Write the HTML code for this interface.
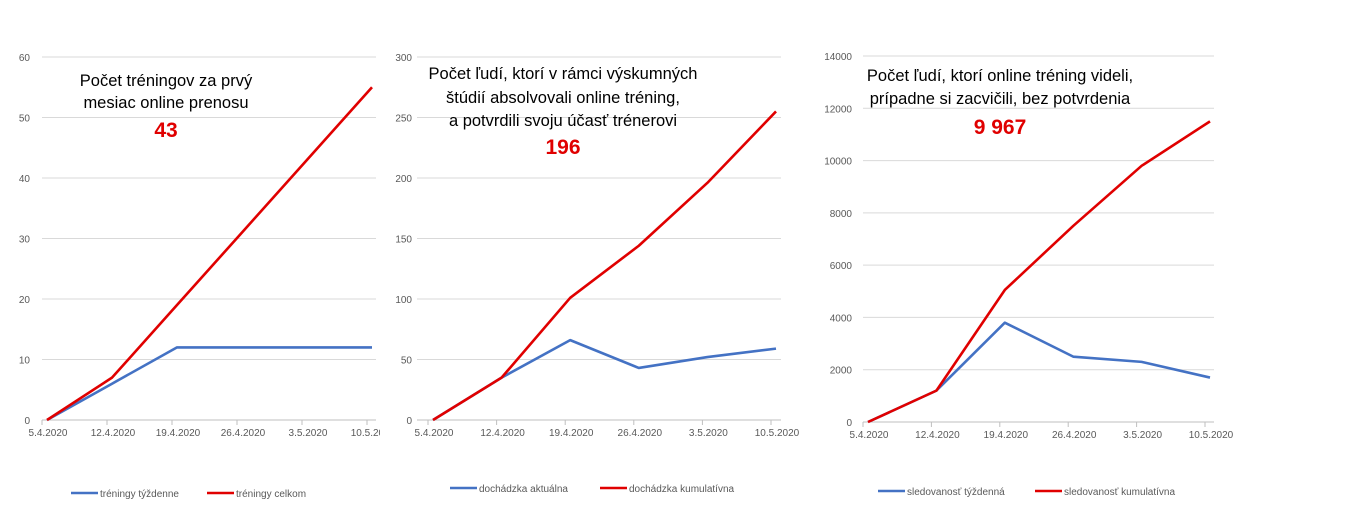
<!DOCTYPE html>
<html><head><meta charset="utf-8"><style>
body{margin:0;background:#fff;width:1350px;height:506px;overflow:hidden;font-family:"Liberation Sans",sans-serif}
svg{display:block}
</style></head><body>
<svg id="s" width="1350" height="506" xmlns="http://www.w3.org/2000/svg"></svg>
<script>
const categories=["5.4.2020","12.4.2020","19.4.2020","26.4.2020","3.5.2020","10.5.2020"];
const c1Weekly=[0,6,12,12,12,12];
const c1Total=[0,7,19,31,43,55];
const c1Ticks=[0,10,20,30,40,50,60];
const c2Current=[0,35,66,43,52,59];
const c2Cumul=[0,35,101,144,196,255];
const c2Ticks=[0,50,100,150,200,250,300];
const c3Weekly=[0,1200,3800,2500,2300,1700];
const c3Cumul=[0,1200,5050,7500,9800,11500];
const c3Ticks=[0,2000,4000,6000,8000,10000,12000,14000];
const NS="http://www.w3.org/2000/svg";
const svg=document.getElementById('s');
function mk(tag,attrs,parent,text){const e=document.createElementNS(NS,tag);for(const k in attrs)e.setAttribute(k,attrs[k]);if(text!==undefined)e.textContent=text;(parent||svg).appendChild(e);return e;}
function chart(cfg){
  const g=mk('g',{});
  
  
  const max=cfg.ticks[cfg.ticks.length-1];
  const y=v=>cfg.y0-(v/max)*(cfg.y0-cfg.y1);
  const x=i=>cfg.px0+i*cfg.step;
  cfg.ticks.forEach(t=>{
    const l=mk('line',{x1:cfg.gx0,x2:cfg.gx1,y1:y(t),y2:y(t),stroke:t===0?'#bfbfbf':'#d9d9d9','stroke-width':1},g);
    
    
    const tx=mk('text',{x:cfg.labX,y:y(t)+4,'text-anchor':'end','font-size':10,fill:'#595959'},g,String(t));
    
    
  });
  categories.forEach((c,i)=>{
    const tk=mk('line',{x1:x(i)-5,x2:x(i)-5,y1:cfg.y0,y2:cfg.y0+5,stroke:'#bfbfbf'},g);
    
    
    const tx=mk('text',{x:x(i)+1,y:cfg.y0+16,'text-anchor':'middle','font-size':10,fill:'#595959'},g,c);
    
    
  });
  const clip=mk('clipPath',{id:cfg.name+'-clip'},g);
  mk('rect',{x:0,y:0,width:cfg.clipX,height:506},clip);
  g.querySelectorAll('text').forEach(t=>{t.setAttribute('clip-path','url(#'+cfg.name+'-clip)');});
  [[cfg.s1,'#4472c4','blue-series'],[cfg.s2,'#e00000','red-series']].forEach(([d,col,n])=>{
    const p=mk('polyline',{points:d.map((v,i)=>x(i)+','+y(v)).join(' '),fill:'none',stroke:col,'stroke-width':2.6,'stroke-linejoin':'round'},g);
    
    
  });
  cfg.title.forEach((t,i)=>{
    const tx=mk('text',{x:cfg.tcx,y:cfg.ty[i],'text-anchor':'middle','font-size':16.5,fill:'#000'},g,t);
    
    
  });
  const big=mk('text',{x:cfg.tcx,y:cfg.bigY,'text-anchor':'middle','font-size':21,'font-weight':'bold',fill:'#e00000'},g,cfg.big);
  
  
  [[cfg.leg[0],'#4472c4',cfg.legNames[0]],[cfg.leg[1],'#e00000',cfg.legNames[1]]].forEach(([lx,col,name])=>{
    const le=mk('g',{},g);
    
    
    mk('line',{x1:lx,x2:lx+27,y1:cfg.legY,y2:cfg.legY,stroke:col,'stroke-width':2.6},le);
    mk('text',{x:lx+29,y:cfg.legY+4,'font-size':10,fill:'#595959'},le,name);
  });
}
chart({name:'chart-trainings',ticks:c1Ticks,s1:c1Weekly,s2:c1Total,y0:420,y1:57,px0:47,step:65,gx0:42,gx1:376,labX:30,clipX:380,
  title:['Počet tréningov za prvý','mesiac online prenosu'],ty:[86,108],tcx:166,bigY:137,big:'43',
  leg:[71,207],legY:493,legNames:['tréningy týždenne','tréningy celkom']});
chart({name:'chart-attendance',ticks:c2Ticks,s1:c2Current,s2:c2Cumul,y0:420,y1:57,px0:433,step:68.6,gx0:417,gx1:781,labX:412,clipX:805,
  title:['Počet ľudí, ktorí v rámci výskumných','štúdií absolvovali online tréning,','a potvrdili svoju účasť trénerovi'],ty:[79,103,126],tcx:563,bigY:154,big:'196',
  leg:[450,600],legY:488,legNames:['dochádzka aktuálna','dochádzka kumulatívna']});
chart({name:'chart-viewership',ticks:c3Ticks,s1:c3Weekly,s2:c3Cumul,y0:422,y1:56,px0:868,step:68.4,gx0:863,gx1:1214,labX:852,clipX:1250,
  title:['Počet ľudí, ktorí online tréning videli,','prípadne si zacvičili, bez potvrdenia'],ty:[81,104],tcx:1000,bigY:134,big:'9 967',
  leg:[878,1035],legY:491,legNames:['sledovanosť týždenná','sledovanosť kumulatívna']});
</script>
</body></html>
